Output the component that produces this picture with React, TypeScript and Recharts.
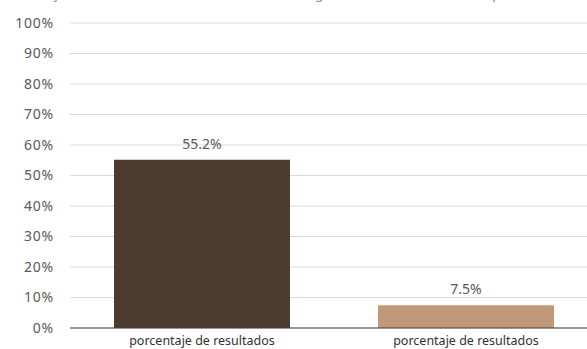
import React from 'react';
import { BarChart, Bar, XAxis, YAxis, CartesianGrid, LabelList, Cell } from 'recharts';

const categories = ['porcentaje de resultados', 'porcentaje de resultados'];
const values = [55.2, 7.5];
const colors = ['#4d3b30', '#c09a78'];
const yTicks = [0, 10, 20, 30, 40, 50, 60, 70, 80, 90, 100];

const data = categories.map((name, i) => ({ key: `c${i}`, name, value: values[i] }));

const font = '"Noto Sans", sans-serif';

const App: React.FC = () => {
  return (
    <div style={{ position: 'absolute', left: 0, top: 0, width: 587, height: 349, overflow: 'hidden', background: '#fff' }}>
      {/* título recortado en la parte superior */}
      <div
        style={{
          position: 'absolute',
          top: -17,
          left: -4,
          fontFamily: font,
          fontSize: 14,
          color: '#8c8c8c',
          whiteSpace: 'nowrap',
        }}
      >
        Porcentaje de resultados obtenidos en cada categoría de la encuesta de empresas
      </div>
      <BarChart
        width={598}
        height={349}
        data={data}
        margin={{ top: 23, right: 0, bottom: 0, left: 0 }}
        barSize={176}
      >
        <CartesianGrid horizontal vertical={false} stroke="#d9d9d9" />
        <XAxis
          dataKey="key"
          tickFormatter={(_, i) => categories[i]}
          tickLine={false}
          axisLine={{ stroke: '#404040' }}
          height={21}
          tickMargin={2}
          tick={{ fill: '#333333', fontSize: 12.5, fontFamily: font }}
        />
        <YAxis
          domain={[0, 100]}
          ticks={yTicks}
          width={70}
          axisLine={false}
          tickLine={false}
          tickMargin={10}
          tickFormatter={(v) => `${v}%`}
          tick={{ fill: '#595959', fontSize: 14, fontFamily: font, letterSpacing: 0.8 }}
        />
        <Bar dataKey="value" isAnimationActive={false}>
          {data.map((d, i) => (
            <Cell key={d.key} fill={colors[i]} />
          ))}
          <LabelList
            dataKey="value"
            position="top"
            offset={11}
            formatter={(v: number) => `${v}%`}
            style={{ fill: '#595959', fontSize: 14, fontFamily: font }}
          />
        </Bar>
      </BarChart>
    </div>
  );
};

export default App;
